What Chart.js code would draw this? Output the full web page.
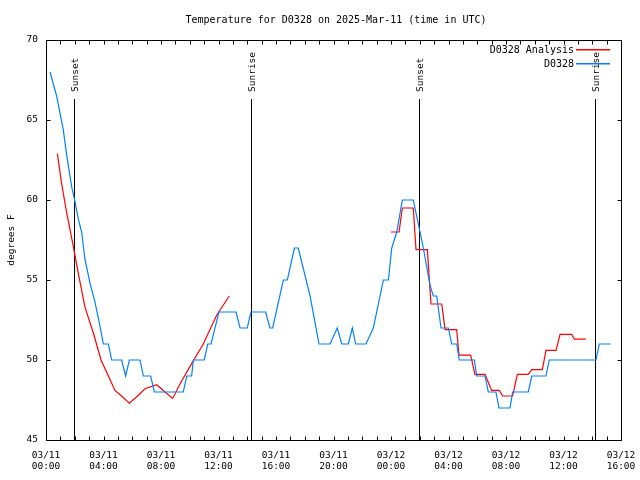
<!DOCTYPE html>
<html>
<head>
<meta charset="utf-8">
<title>Temperature for D0328</title>
<script src="https://cdn.jsdelivr.net/npm/chart.js@4.4.1/dist/chart.umd.min.js"></script>
<style>
  body { margin: 0; background: #fff; }
  #wrap { width: 640px; height: 480px; }
</style>
</head>
<body>
<div id="wrap"><canvas id="tempChart" width="640" height="480"></canvas></div>
<script>
// hours since 03/11 00:00 UTC
const obsHours = [0.28, 0.74, 1.2, 1.44, 1.79, 1.97, 2.25, 2.48, 2.71, 3.06, 3.41, 3.76, 3.99, 4.34, 4.57,
  5.26, 5.54, 5.8, 6.54, 6.77, 7.28, 7.54, 9.55, 9.79, 10.13, 10.25, 11.01, 11.25, 11.48, 12.03,
  13.22, 13.5, 14.0, 14.26, 15.28, 15.58, 15.77, 16.51, 16.79, 17.28, 17.55, 18.37, 18.99, 19.76,
  20.26, 20.57, 21.03, 21.31, 21.54, 22.26, 22.77, 23.47, 23.82, 24.05, 24.4, 24.79, 25.55, 26.02,
  26.25, 26.71, 26.94, 27.18, 27.48, 27.99, 28.22, 28.57, 28.75, 29.8, 29.96, 30.54, 30.77, 31.3,
  31.51, 32.28, 32.46, 33.55, 33.79, 34.78, 35.01, 38.26, 38.49, 39.28];
const obsTemps = [68.0, 66.5, 64.4, 62.8, 60.8, 60.1, 58.8, 58.0, 56.3, 54.8, 53.6, 52.1, 51.0, 51.0, 50,
  50, 49, 50, 50, 49, 49, 48, 48, 49, 49, 50, 50, 51, 51, 53,
  53, 52, 52, 53, 53, 52, 52, 55, 55, 57, 57, 54, 51, 51,
  52, 51, 51, 52, 51, 51, 52, 55, 55, 57, 58, 60, 60, 58,
  57, 54.7, 54, 54, 52, 52, 51, 51, 50, 50, 49, 49, 48, 48,
  47, 47, 48, 48, 49, 49, 50, 50, 51, 51];

const anaHours = [0.79, 1.09, 1.44, 1.9, 2.25, 2.71, 3.29, 3.83, 4.34, 4.8, 5.26, 5.8, 6.31, 6.89, 7.7,
  8.28, 8.81, 9.32, 10.02, 10.94, 11.87, 12.75, 18,
  24.0, 24.56, 24.79, 25.55, 25.74, 26.53, 26.78, 27.53, 27.76, 28.57, 28.73, 29.54, 29.84, 30.54,
  31.0, 31.53, 31.77, 32.46, 32.79, 33.55, 33.79, 34.53, 34.78, 35.48, 35.76, 36.57, 36.75, 37.55];
const anaTemps = [62.9, 61.0, 59.2, 57.1, 55.4, 53.3, 51.7, 50.0, 49.0, 48.1, 47.75, 47.3, 47.7, 48.2, 48.45,
  48.0, 47.6, 48.5, 49.6, 51.0, 52.8, 54.0, null,
  58, 58, 59.5, 59.5, 56.9, 56.9, 53.5, 53.5, 51.9, 51.9, 50.3, 50.3, 49.1, 49.1,
  48.1, 48.1, 47.75, 47.75, 49.1, 49.1, 49.4, 49.4, 50.6, 50.6, 51.6, 51.6, 51.3, 51.3];

const tickDates = ['03/11', '03/11', '03/11', '03/11', '03/11', '03/11', '03/12', '03/12', '03/12', '03/12', '03/12'];
const tickTimes = ['00:00', '04:00', '08:00', '12:00', '16:00', '20:00', '00:00', '04:00', '08:00', '12:00', '16:00'];

const sunHours = [1.95, 14.28, 25.97, 38.2];
const sunLabels = ['Sunset', 'Sunrise', 'Sunset', 'Sunrise'];

const legendLabels = ['D0328 Analysis', 'D0328'];
const legendColors = ['#ff0000', '#0080ff'];

const MONO = '"DejaVu Sans Mono", "Liberation Mono", monospace';

function toPoints(xs, ys) {
    return xs.map((x, i) => ({ x: x, y: ys[i] }));
}

// gnuplot-like frame, inward ticks, sun markers, title and legend
const gnuplotLook = {
    id: 'gnuplotLook',
    beforeDatasetsDraw(chart) {
        const ctx = chart.ctx;
        const xs = chart.scales.x;
        const a = chart.chartArea;
        ctx.save();
        ctx.strokeStyle = '#000';
        ctx.lineWidth = 1;
        ctx.fillStyle = '#000';
        ctx.font = '9.5px ' + MONO;
        sunHours.forEach((h, i) => {
            const px = Math.round(xs.getPixelForValue(h)) + 0.5;
            ctx.beginPath();
            ctx.moveTo(px, 99);
            ctx.lineTo(px, a.bottom);
            ctx.stroke();
            ctx.save();
            ctx.translate(px + 1, 92);
            ctx.rotate(-Math.PI / 2);
            ctx.textAlign = 'left';
            ctx.textBaseline = 'middle';
            ctx.fillText(sunLabels[i], 0, 0);
            ctx.restore();
        });
        ctx.restore();
    },
    afterDraw(chart) {
        const ctx = chart.ctx;
        const xs = chart.scales.x;
        const ys = chart.scales.y;
        const a = chart.chartArea;
        ctx.save();
        ctx.strokeStyle = '#000';
        ctx.lineWidth = 1;
        const L = Math.round(a.left) + 0.5, R = Math.round(a.right) + 0.5;
        const T = Math.round(a.top) + 0.5, B = Math.round(a.bottom) + 0.5;
        ctx.strokeRect(L, T, R - L, B - T);
        ctx.beginPath();
        for (let h = 1; h < 40; h++) {
            const px = Math.round(xs.getPixelForValue(h)) + 0.5;
            ctx.moveTo(px, B); ctx.lineTo(px, B - 4);
            ctx.moveTo(px, T); ctx.lineTo(px, T + 4);
        }
        for (let v = 50; v < 70; v += 5) {
            const py = Math.round(ys.getPixelForValue(v)) + 0.5;
            ctx.moveTo(L, py); ctx.lineTo(L + 4, py);
            ctx.moveTo(R, py); ctx.lineTo(R - 4, py);
        }
        ctx.stroke();

        // title
        ctx.fillStyle = '#000';
        ctx.font = '10px ' + MONO;
        ctx.textAlign = 'center';
        ctx.textBaseline = 'middle';
        ctx.fillText('Temperature for D0328 on 2025-Mar-11 (time in UTC)', 336, 20);

        // legend: text then a short sample line in the series colour
        legendLabels.forEach((lab, i) => {
            const y = 49 + i * 14;
            ctx.fillStyle = '#000';
            ctx.textAlign = 'right';
            ctx.fillText(lab, 574, y + 1);
            ctx.fillStyle = legendColors[i];
            ctx.fillRect(576, y, 34, 1.5);
        });
        ctx.restore();
    }
};

window.onload = function () {
    const ctx = document.getElementById('tempChart').getContext('2d');
    const tempChart = new Chart(ctx, {
        type: 'line',
        data: {
            datasets: [
                {
                    label: legendLabels[1],
                    data: toPoints(obsHours, obsTemps),
                    borderColor: legendColors[1],
                    borderWidth: 1.2,
                    pointRadius: 0,
                    tension: 0,
                    order: 0
                },
                {
                    label: legendLabels[0],
                    data: toPoints(anaHours, anaTemps),
                    borderColor: legendColors[0],
                    borderWidth: 1.2,
                    pointRadius: 0,
                    tension: 0,
                    spanGaps: false,
                    order: 1
                }
            ]
        },
        options: {
            responsive: false,
            animation: false,
            layout: {
                padding: { left: 0, right: 19, top: 40, bottom: 0 }
            },
            plugins: {
                legend: { display: false },
                tooltip: { enabled: false }
            },
            scales: {
                x: {
                    type: 'linear',
                    min: 0,
                    max: 40,
                    afterFit: function (scale) {
                        scale.height = 40;
                        scale.paddingLeft = 0;
                        scale.paddingRight = 0;
                    },
                    grid: { display: false, drawTicks: false },
                    border: { display: false },
                    ticks: {
                        stepSize: 4,
                        autoSkip: false,
                        maxRotation: 0,
                        padding: 10,
                        color: '#000',
                        font: { family: MONO, size: 9.5, lineHeight: 1.18 },
                        callback: function (value) {
                            const i = Math.round(value / 4);
                            return [tickDates[i], tickTimes[i]];
                        }
                    }
                },
                y: {
                    min: 45,
                    max: 70,
                    afterFit: function (scale) { scale.width = 46; },
                    grid: { display: false, drawTicks: false },
                    border: { display: false },
                    title: {
                        display: true,
                        text: 'degrees F',
                        color: '#000',
                        font: { family: MONO, size: 9.5 },
                        padding: { top: 6, bottom: 0 }
                    },
                    ticks: {
                        stepSize: 5,
                        padding: 8,
                        color: '#000',
                        font: { family: MONO, size: 9.5 }
                    }
                }
            }
        },
        plugins: [gnuplotLook]
    });
};
</script>
</body>
</html>
